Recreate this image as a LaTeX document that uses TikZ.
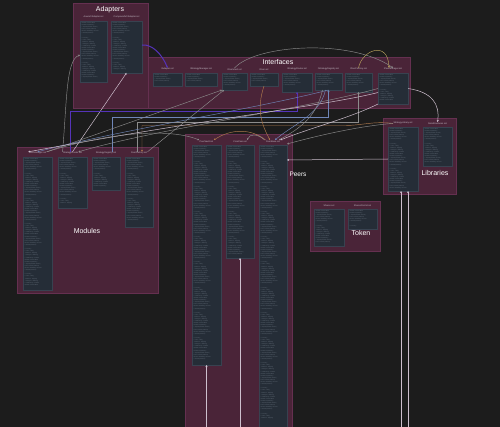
\documentclass[tikz,border=0pt]{standalone}
\usepackage{fontspec}
\setmainfont{Liberation Sans}
\usetikzlibrary{arrows.meta,calc}
\definecolor{bg}{HTML}{1C1C1C}
\definecolor{clf}{HTML}{4A2438}
\definecolor{cld}{HTML}{653050}
\definecolor{pf}{HTML}{252D37}
\definecolor{pd}{HTML}{384250}
\definecolor{codec}{HTML}{6E7884}
\definecolor{hdrc}{HTML}{C4BCC6}
\definecolor{lgray}{HTML}{8C8C8C}
\definecolor{lwhite}{HTML}{CDBFCD}
\definecolor{lorange}{HTML}{B07A4C}
\definecolor{lpurple}{HTML}{5533B8}
\definecolor{lblue}{HTML}{6F86B8}
\definecolor{lyellow}{HTML}{B8A25C}
\newcommand\codeline[1]{\ifcase#1 + deposit(uint256 amount)\or - balances: mapping\or function withdraw() external\or + totalAssets(): uint256\or ~\or modifier onlyOwner()\or + name: string\or event Transfer(address)\or - strategies: address[]\or + initialize(address)\or uint256 constant MAX\or + harvest()\fi}
\newcommand\fakecode[1]{\foreach \k in {1,...,#1}{\pgfmathtruncatemacro\m{mod(\k*7+3,12)}\codeline{\m}\par}}
\newcommand\panel[6]{%
  \pgfmathsetmacro\pw{#4-#2}\pgfmathsetmacro\ph{#5-#3}%
  \pgfmathsetmacro\tw{\pw-3}\pgfmathtruncatemacro\pn{(min(#5,423)-#3-3)/2.1}%
  \node[pbox,minimum width=\pw pt,minimum height=\ph pt,anchor=north west] (#1) at (#2,#3) {};
  \node[codetxt,text width=\tw pt,anchor=north west] at ([shift={(1.5,1.2)}]#1.north west) {\fakecode{\pn}};
  \node[hdr] (#1h) at ([yshift=3.6pt]#1.north) {#6};
}
\newcommand\cluster[5]{%
  \pgfmathsetmacro\cw{#4-#2}\pgfmathsetmacro\ch{#5-#3}%
  \node[cbox,minimum width=\cw pt,minimum height=\ch pt,anchor=north west] (#1) at (#2,#3) {};
}
\tikzset{
  pbox/.style={fill=pf,draw=pd,line width=0.4pt,inner sep=0pt,outer sep=0pt},
  cbox/.style={fill=clf,draw=cld,line width=0.7pt,inner sep=0pt,outer sep=0pt},
  codetxt/.style={font=\fontsize{1.35}{2.1}\selectfont,text=codec,inner sep=0pt,align=left},
  hdr/.style={font=\fontsize{2.3}{2.8}\selectfont,text=hdrc,inner sep=0.3pt},
  ctitle/.style={font=\fontsize{7}{8}\selectfont,text=white,inner sep=0pt},
  tip/.style={-{Stealth[length=2pt,width=2pt]}},
  cg/.style={draw=lgray,line width=0.45pt,tip},
  cw/.style={draw=lwhite,line width=0.5pt,tip},
  co/.style={draw=lorange,line width=0.45pt,tip},
  cp/.style={draw=lpurple,line width=1pt,tip},
  cb/.style={draw=lblue,line width=0.45pt,tip},
  cy/.style={draw=lyellow,line width=0.45pt,tip},
}
\begin{document}
\begin{tikzpicture}[x=1pt,y=-1pt]
\fill[bg] (0,0) rectangle (500,427);
\useasboundingbox (0,0) rectangle (500,427);
% clusters
\cluster{adapters}{73}{3}{148}{108}
\cluster{interfaces}{148}{57}{410}{108}
\cluster{modules}{17}{147}{158}{293}
\cluster{peers}{185}{134}{292}{434}
\cluster{libraries}{383}{118}{456}{194}
\cluster{token}{310}{201}{380}{251}
\node[ctitle] (tadapters) at (110,10) {Adapters};
\node[ctitle] (tinterfaces) at (278,62) {Interfaces};
\node[ctitle] (tmodules) at (87,231) {Modules};
\node[ctitle] (tlibraries) at (435,173) {Libraries};
\node[ctitle] (ttoken) at (361,233) {Token};
\node[ctitle,font=\fontsize{6.5}{7}\selectfont] (tpeers) at (298,174) {Peers};
% panels
\panel{A1}{80}{21}{107}{82}{AaveV2Adapter.sol}
\panel{A2}{111}{21}{142}{73}{CompoundV2Adapter.sol}
\panel{I1}{153}{73}{182}{86}{IAdapter.sol}
\panel{I2}{185}{73}{217}{86}{IStrategyManager.sol}
\panel{I3}{222}{73}{247}{90}{IPeerVault.sol}
\panel{I4}{250}{73}{278}{86}{IPeer.sol}
\panel{I5}{282}{73}{312}{92}{IStrategyRouter.sol}
\panel{I6}{315}{73}{342}{90}{IStrategyRegistry.sol}
\panel{I7}{345}{73}{372}{92}{IPeerFactory.sol}
\panel{I8}{378}{73}{408}{104}{IPeerManager.sol}
\panel{M1}{23}{157}{52}{290}{PeerManager.sol}
\panel{M2}{58}{157}{87}{208}{StrategyRouter.sol}
\panel{M3}{92}{157}{120}{190}{StrategyRegistry.sol}
\panel{M4}{125}{157}{153}{227}{PeerFactory.sol}
\panel{P1}{192}{145}{221}{365}{PeerVault.sol}
\panel{P2}{226}{145}{254}{258}{CorePeer.sol}
\panel{P3}{259}{145}{287}{434}{PeerBase.sol}
\panel{L1}{388}{127}{418}{191}{StrategyLibrary.sol}
\panel{L2}{423}{127}{452}{166}{DataStructures.sol}
\panel{T1}{314}{209}{344}{246}{Shares.sol}
\panel{T2}{348}{209}{377}{229}{SharesPermit.sol}
% connectors
\draw[cg] (M2h.north west) .. controls (67,100) and (66,60) .. ($(A1.north west)+(0,34)$);
\draw[cw] (M2h.north) -- (A2.south);
\draw[cp] ($(A2.north east)+(0,24)$) .. controls (152,44) and (162,54) .. (I1h.north);
\draw[cp] ([xshift=-2pt]M2h.north) |- (I5.south |- 0,112) -- (I5.south);
\draw[cb] ([xshift=6pt]M3h.north) |- (I6.south |- 0,117) -- (I6.south);
\draw[cg] ([xshift=-2pt]M4h.north) |- (I7.south |- 0,122) -- (I7.south);
\draw[co] (L1h.west) .. controls (372,121) and (362,125.5) .. (345,125.5) -- (142,125.5) -- ([xshift=3pt]M4h.north);
\draw[cg] (M1h.north east) -- (I3.south west);
\draw[cg] (M4h.north east) -- ([xshift=2pt]I3.south west);
\draw[cb] (I6.south) .. controls (250,110) and (120,130) .. (M1h.north);
\draw[cg] (I8.west) .. controls (300,110) and (160,128) .. ([xshift=-4pt]M2h.north east);
\draw[cw] ([yshift=-4pt]I8.west) .. controls (330,105) and (200,120) .. (M1h.north west);
\draw[co] (I4.south) .. controls (256,110) and (262,125) .. ([xshift=-3pt]P3h.north);
\draw[cb] ([xshift=-3pt]I6.south) .. controls (320,115) and (292,125) .. ([xshift=2pt]P3h.north);
\draw[cg] ([xshift=-6pt]I6.south) .. controls (316,118) and (300,128) .. ([xshift=6pt]P3h.north);
\draw[cw] (I8.south west) .. controls (350,118) and (310,128) .. (P3h.north east);
\draw[co] (P3h.north west) .. controls (252,129) and (232,128) .. (P1h.north east);
\draw[cg] ([xshift=-1pt]P3h.north west) .. controls (258,134) and (250,133) .. (P2h.north east);
\draw[cg] (M1h.north east) .. controls (110,132) and (170,128) .. (P1h.north west);
\draw[cw] (L1.west) -- ($(P3.north east)+(0,15)$);
\draw[cg] (L1h.west) .. controls (360,126) and (320,135) .. ($(P3.north east)+(0,-1)$);
\draw[cw] (I8.east) .. controls (432,92) and (440,104) .. (L2h.north);
\draw[cg] (I3h.north) .. controls (255,45) and (350,38) .. (I8h.north);
\draw[cy] (I7h.north) .. controls (362,50) and (388,40) .. ([xshift=-4pt]I8h.north);
\draw[cw] (P1.south |- 0,430) -- (P1.south);
\draw[cw] (P2.south |- 0,430) -- (P2.south);
\draw[cw] ([xshift=-2pt]L1.south |- 0,430) -- ([xshift=-2pt]L1.south);
\draw[cw] ([xshift=5pt]L1.south |- 0,430) -- ([xshift=5pt]L1.south);
\end{tikzpicture}
\end{document}
